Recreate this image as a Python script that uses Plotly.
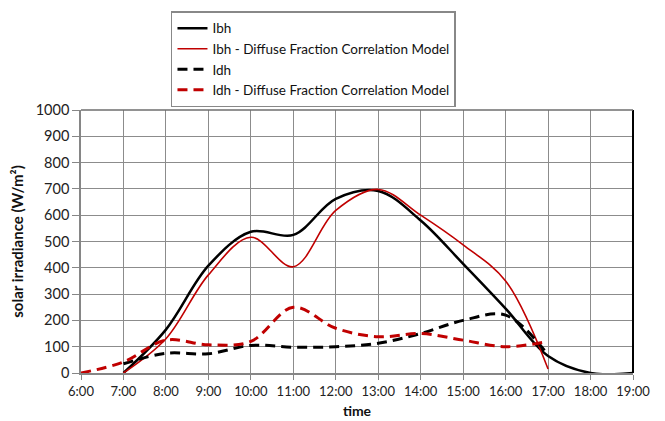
import plotly.graph_objects as go

hours = [6, 7, 8, 9, 10, 11, 12, 13, 14, 15, 16, 17, 18, 19]
tick_labels = ["6:00", "7:00", "8:00", "9:00", "10:00", "11:00", "12:00",
               "13:00", "14:00", "15:00", "16:00", "17:00", "18:00", "19:00"]

ibh = [None, 0, 165, 408, 537, 525, 662, 692, 580, 415, 245, 65, 0, 0]
ibh_model = [None, 0, 130, 373, 516, 404, 618, 698, 600, 487, 350, 15, None, None]
idh = [None, 35, 75, 73, 105, 98, 100, 113, 150, 200, 220, 68, None, None]
idh_model = [0, 42, 125, 107, 120, 250, 170, 138, 150, 125, 100, 120, None, None]

RED = "#c00000"
FONT = "Lato, 'Open Sans', sans-serif"

fig = go.Figure()
fig.add_trace(go.Scatter(x=hours, y=ibh, name="Ibh", mode="lines",
                         line=dict(color="black", width=2.5, shape="spline", smoothing=1.0)))
fig.add_trace(go.Scatter(x=hours, y=ibh_model, name="Ibh - Diffuse Fraction Correlation Model",
                         mode="lines",
                         line=dict(color=RED, width=1.6, shape="spline", smoothing=1.0)))
fig.add_trace(go.Scatter(x=hours, y=idh, name="Idh", mode="lines",
                         line=dict(color="black", width=3, dash="10px,6px", shape="spline", smoothing=1.0)))
fig.add_trace(go.Scatter(x=hours, y=idh_model, name="Idh - Diffuse Fraction Correlation Model",
                         mode="lines",
                         line=dict(color=RED, width=3, dash="10px,6px", shape="spline", smoothing=1.0)))

fig.update_layout(
    width=665, height=421,
    margin=dict(l=81, r=32, t=110, b=48),
    paper_bgcolor="white", plot_bgcolor="white",
    font=dict(family=FONT, size=13, color="#222"),
    showlegend=True,
    legend=dict(x=0.163, y=1.375, xanchor="left", yanchor="top",
                bordercolor="#888888", borderwidth=1.5, bgcolor="white",
                font=dict(family=FONT, size=13.5, color="#111"),
                tracegroupgap=0, itemwidth=30),
    xaxis=dict(range=[6, 19], tickvals=hours, ticktext=tick_labels,
               showgrid=True, gridcolor="#8c8c8c", gridwidth=1,
               showline=True, linecolor="#868686", linewidth=2,
               ticks="outside", ticklen=5, tickcolor="#868686",
               tickfont=dict(size=13, color="#222"),
               title=dict(text="<b>time</b>", font=dict(size=14, color="#111"), standoff=9),
               zeroline=False, automargin=False),
    yaxis=dict(range=[0, 1000], dtick=100,
               showgrid=True, gridcolor="#8c8c8c", gridwidth=1,
               showline=True, linecolor="#868686", linewidth=1.5,
               ticks="outside", ticklen=7, tickcolor="#868686",
               tickfont=dict(size=14.5, color="#222"),
               title=dict(text="<b>solar irradiance (W/m²)</b>", font=dict(size=15, color="#111"), standoff=8),
               zeroline=False, automargin=False),
)
fig.add_shape(type="line", xref="paper", yref="paper", x0=1, x1=1, y0=0, y1=1,
              line=dict(color="black", width=2))
fig.add_shape(type="line", xref="paper", yref="paper", x0=0, x1=1, y0=1, y1=1,
              line=dict(color="#6e6e6e", width=1.5))

fig.write_html("out.html")
